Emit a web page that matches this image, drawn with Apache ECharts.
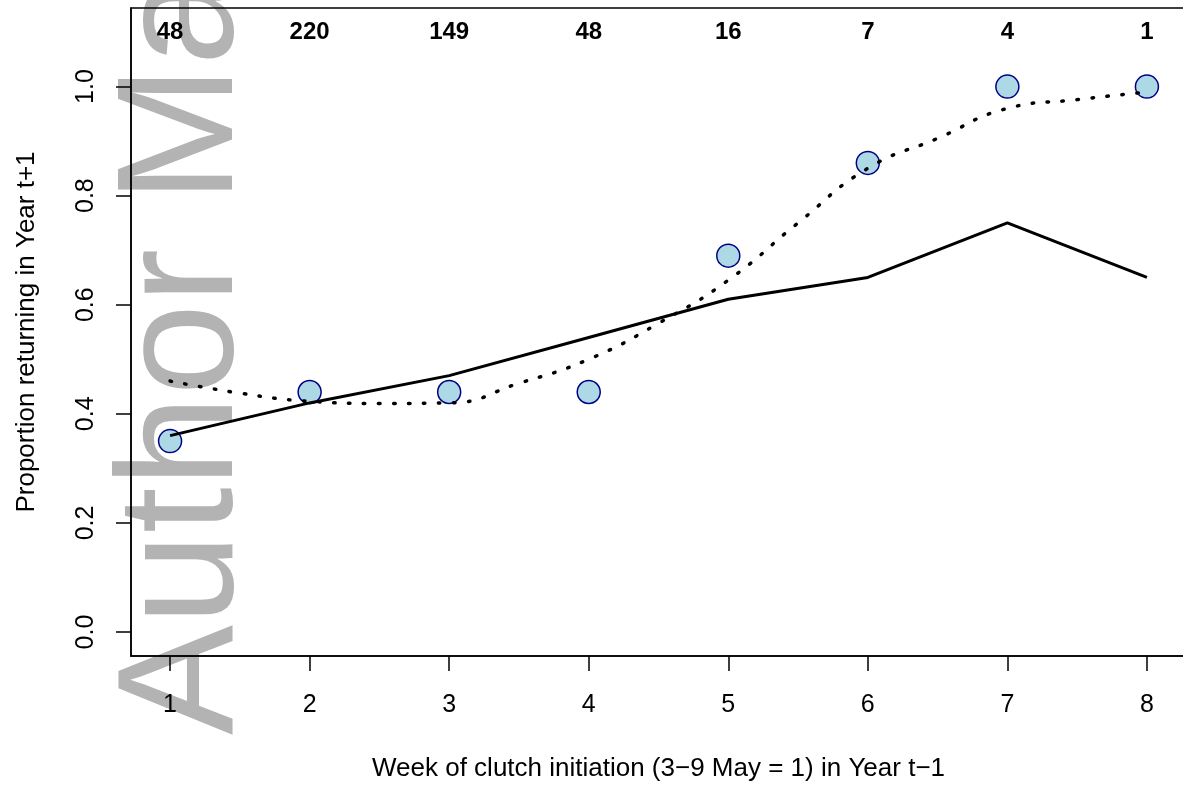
<!DOCTYPE html>
<html>
<head>
<meta charset="utf-8">
<script src="https://cdn.jsdelivr.net/npm/echarts@6/dist/echarts.min.js"></script>
<style>
  html, body { margin: 0; padding: 0; background: #fff; overflow: hidden; }
  #main { width: 1186px; height: 787px; }
</style>
</head>
<body>
<div id="main"></div>
<script>
// weeks of clutch initiation
var weeks = [1, 2, 3, 4, 5, 6, 7, 8];
// sample sizes printed along the top
var counts = ['48', '220', '149', '48', '16', '7', '4', '1'];
// observed proportions (circles)
var observed = [0.35, 0.44, 0.44, 0.44, 0.69, 0.86, 1.0, 1.0];
// solid line
var solidLine = [0.36, 0.42, 0.47, 0.54, 0.61, 0.65, 0.75, 0.65];
// dotted fitted curve, read at half weeks
var fitX = [1, 1.5, 2, 2.5, 3, 3.5, 4, 4.5, 5, 5.5, 6, 6.5, 7, 7.5, 8];
var fitY = [0.46, 0.438, 0.423, 0.419, 0.42, 0.456, 0.5, 0.566, 0.645, 0.75, 0.85, 0.905, 0.96, 0.976, 0.99];
var yTicks = [0, 0.2, 0.4, 0.6, 0.8, 1.0];
var countRow = 1.1;

var font = 'Liberation Sans, Arial, Helvetica, sans-serif';

var chart = echarts.init(document.getElementById('main'));
chart.setOption({
  animation: false,
  backgroundColor: '#fff',
  textStyle: { fontFamily: font },
  graphic: [{
    type: 'text',
    z: -10,
    x: 186,
    y: 735,
    rotation: Math.PI / 2,
    style: {
      text: 'Author Manuscript',
      font: '165px ' + font,
      fill: '#b3b3b3',
      align: 'left',
      verticalAlign: 'middle'
    }
  }],
  grid: {
    left: 131, top: 8, right: 0, bottom: 130,
    show: true, borderColor: '#000', borderWidth: 1.5,
    backgroundColor: 'transparent'
  },
  xAxis: {
    type: 'value', min: 0.72, max: 8.28,
    splitLine: { show: false },
    axisLine: { show: true, onZero: false, lineStyle: { color: '#000', width: 1.5 } },
    axisTick: { show: true, length: 15, customValues: weeks, lineStyle: { color: '#000', width: 1.5 } },
    axisLabel: { customValues: weeks, margin: 37, fontSize: 25, color: '#000', fontFamily: font },
    name: 'Week of clutch initiation (3\u22129 May = 1) in Year t\u22121',
    nameLocation: 'middle', nameGap: 100,
    nameTextStyle: { fontSize: 26, color: '#000', fontFamily: font }
  },
  yAxis: {
    type: 'value', min: -0.044, max: 1.144,
    splitLine: { show: false },
    axisLine: { show: true, onZero: false, lineStyle: { color: '#000', width: 1.5 } },
    axisTick: { show: true, length: 15, customValues: yTicks, lineStyle: { color: '#000', width: 1.5 } },
    axisLabel: {
      customValues: yTicks, rotate: 90, margin: 32, fontSize: 25, color: '#000', fontFamily: font,
      formatter: function (v) { return v.toFixed(1); }
    },
    name: 'Proportion returning in Year t+1',
    nameLocation: 'middle', nameGap: 91,
    nameTextStyle: { fontSize: 26, color: '#000', fontFamily: font }
  },
  series: [
    {
      type: 'scatter',
      z: 2,
      symbol: 'circle',
      symbolSize: 23,
      itemStyle: { color: '#add8e6', borderColor: '#000080', borderWidth: 1.5, opacity: 1 },
      data: weeks.map(function (w, i) { return [w, observed[i]]; })
    },
    {
      type: 'line',
      z: 3,
      showSymbol: false,
      symbol: 'none',
      lineStyle: { color: '#000', width: 3 },
      data: weeks.map(function (w, i) { return [w, solidLine[i]]; })
    },
    {
      type: 'line',
      z: 3,
      smooth: true,
      showSymbol: false,
      symbol: 'none',
      lineStyle: { color: '#000', width: 3.5, type: [1.5, 13.5], cap: 'round' },
      data: fitX.map(function (x, i) { return [x, fitY[i]]; })
    },
    {
      type: 'scatter',
      z: 4,
      symbolSize: 1,
      itemStyle: { opacity: 1, color: 'rgba(0,0,0,0)' },
      label: {
        show: true, position: 'inside', fontSize: 24, fontWeight: 'bold', color: '#000', opacity: 1,
        fontFamily: font,
        formatter: function (p) { return counts[p.dataIndex]; }
      },
      data: weeks.map(function (w) { return [w, countRow]; })
    }
  ]
});
</script>
</body>
</html>
